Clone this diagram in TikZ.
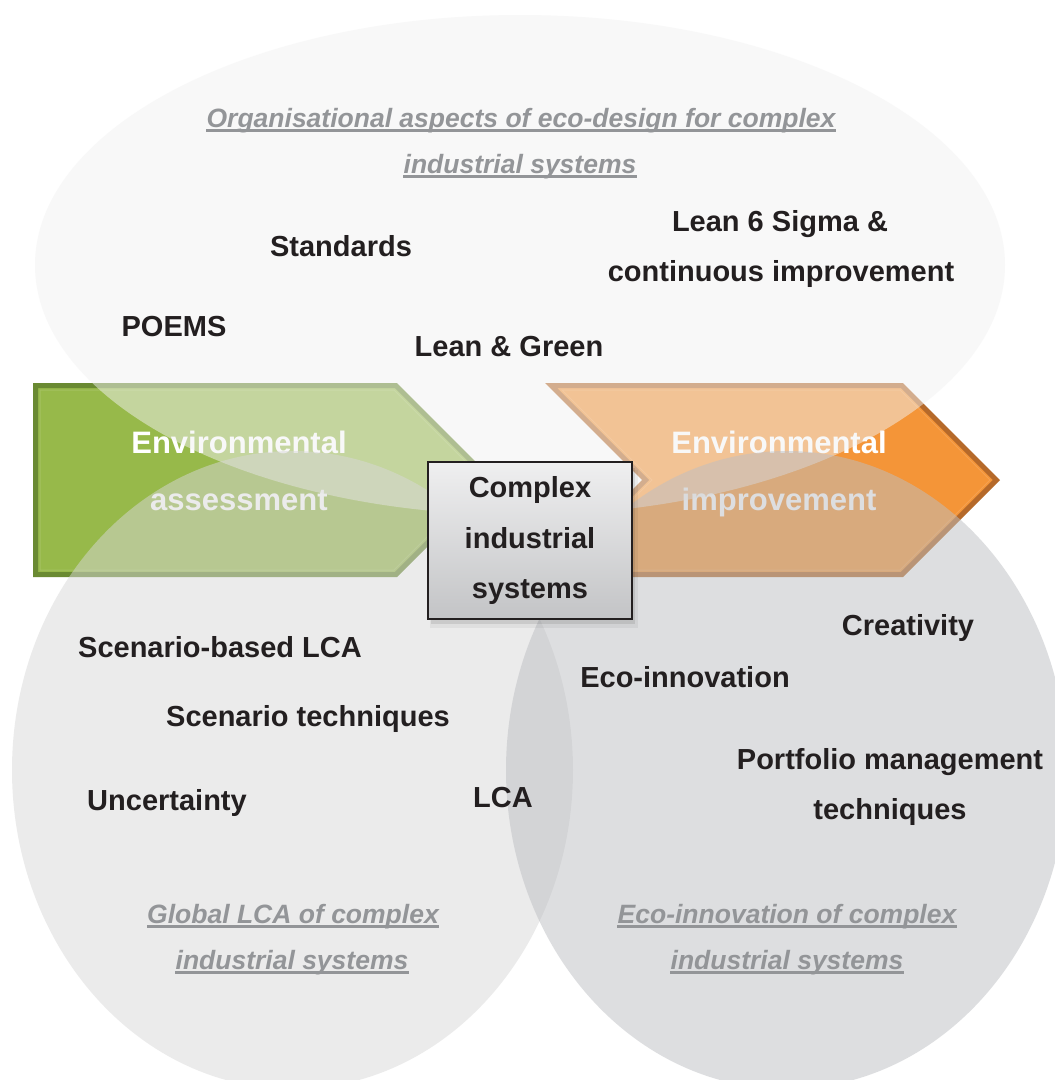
\documentclass[tikz,border=0pt]{standalone}
\usepackage{fontspec}
\setmainfont{Liberation Sans}
\definecolor{grnfill}{HTML}{97B94A}
\definecolor{grnedge}{HTML}{6A8A32}
\definecolor{orfill}{HTML}{F49538}
\definecolor{oredge}{HTML}{B5692A}
\definecolor{txt}{HTML}{231F20}
\definecolor{ttl}{HTML}{939598}
\definecolor{topell}{HTML}{F2F2F2}
\definecolor{lell}{HTML}{D8D8D8}
\definecolor{rell}{HTML}{BDBFC3}
\definecolor{boxtop}{HTML}{EFEFF0}
\definecolor{boxbot}{HTML}{C3C4C6}
\tikzset{
  lbl/.style={anchor=base, inner sep=0pt, text=txt, font=\fontsize{29}{50}\selectfont\bfseries},
  ttlline/.style={anchor=base, inner sep=0pt, text=ttl, font=\fontsize{26.5}{46}\selectfont\bfseries\itshape},
  arrtxt/.style={anchor=base, inner sep=0pt, text=white, font=\fontsize{31}{57}\selectfont\bfseries},
  ulinestyle/.style={draw=ttl, line width=2.7pt},
  ellfill/.style={opacity=0.5},
}
\newcommand{\ulnode}[1]{\draw[ulinestyle] ([yshift=-3.7pt]#1.base west) -- ([yshift=-3.7pt]#1.base east);}
\begin{document}
\begin{tikzpicture}[x=1pt,y=-1pt]
\useasboundingbox (0,0) rectangle (1055,1080);
\clip (0,0) rectangle (1055,1080);
\fill[white] (0,0) rectangle (1055,1080);

% arrows
\draw[grnedge, fill=grnfill, line width=5pt, line join=miter]
  (35.5,385.5) -- (395.96,385.5) -- (490.46,480) -- (395.96,574.5) -- (35.5,574.5) -- cycle;
\draw[white, opacity=0.12, line width=1pt]
  (40,390) -- (394,390) -- (484,480) -- (394,570) -- (40,570) -- cycle;
\draw[oredge, fill=orfill, line width=5pt, line join=miter]
  (551.04,385.5) -- (901.96,385.5) -- (996.46,480) -- (901.96,574.5) -- (551.04,574.5) -- (645.54,480) -- cycle;
\draw[white, opacity=0.12, line width=1pt]
  (562,390) -- (900,390) -- (990,480) -- (900,570) -- (562,570) -- (652,480) -- cycle;

\node[arrtxt] (ea1) at (239,453) {Environmental};
\node[arrtxt] (ea2) at (239,510) {assessment};
\node[arrtxt] (ei1) at (779,453) {Environmental};
\node[arrtxt] (ei2) at (779,510) {improvement};

% ellipses
\fill[topell, ellfill] (520,265) ellipse [x radius=485pt, y radius=250pt];
\fill[lell, ellfill] (292.5,770) ellipse [x radius=280.5pt, y radius=319pt];
\fill[rell, ellfill] (786.5,770) ellipse [x radius=280.5pt, y radius=319pt];

% titles
\node[ttlline] (t1a) at (521,127) {Organisational aspects of eco-design for complex};
\node[ttlline] (t1b) at (520,173) {industrial systems};
\node[ttlline] (t2a) at (293,923) {Global LCA of complex};
\node[ttlline] (t2b) at (292,969) {industrial systems};
\node[ttlline] (t3a) at (787,923) {Eco-innovation of complex};
\node[ttlline] (t3b) at (787,969) {industrial systems};
\ulnode{t1a}\ulnode{t1b}\ulnode{t2a}\ulnode{t2b}\ulnode{t3a}\ulnode{t3b}

% labels
\node[lbl] (std) at (341,256) {Standards};
\node[lbl] (sig1) at (780,231) {Lean 6 Sigma \&};
\node[lbl] (sig2) at (781,281) {continuous improvement};
\node[lbl] (poems) at (174,336) {POEMS};
\node[lbl] (lg) at (509,356) {Lean \& Green};
\node[lbl] (sbl) at (220,657) {Scenario-based LCA};
\node[lbl] (sct) at (308,726) {Scenario techniques};
\node[lbl] (unc) at (167,810) {Uncertainty};
\node[lbl] (lca) at (503,807) {LCA};
\node[lbl] (cre) at (908,635) {Creativity};
\node[lbl] (eco) at (685,687) {Eco-innovation};
\node[lbl] (pm1) at (890,769) {Portfolio management};
\node[lbl] (pm2) at (890,819) {techniques};

% centre box
\fill[black, opacity=0.05] (430,470) rectangle (638,628);
\fill[black, opacity=0.09] (431,468) rectangle (635,624);
\node[draw=txt, line width=1.8pt, top color=boxtop, bottom color=boxbot,
      minimum width=204pt, minimum height=157pt, inner sep=0pt] (cis) at (530,540.5) {};
\node[lbl] (cis1) at (530,497) {Complex};
\node[lbl] (cis2) at (530,548) {industrial};
\node[lbl] (cis3) at (530,598) {systems};
\end{tikzpicture}
\end{document}
